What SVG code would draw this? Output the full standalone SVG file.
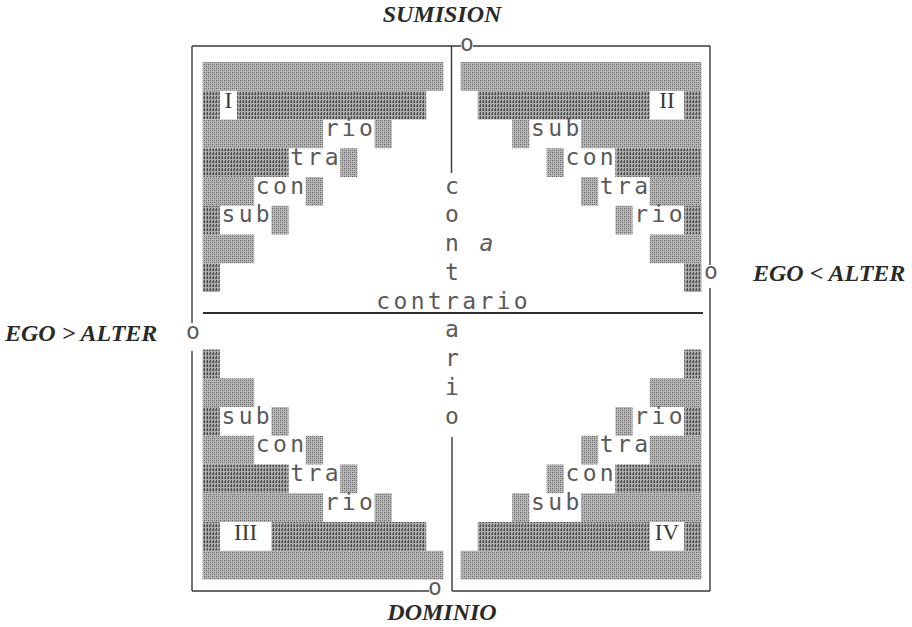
<svg xmlns="http://www.w3.org/2000/svg" width="912" height="627" viewBox="0 0 912 627">
<defs>
<pattern id="lt" width="4" height="4" patternUnits="userSpaceOnUse">
<rect width="4" height="4" fill="#b6b6b6"/>
<rect x="0" y="0" width="1" height="1" fill="#5e5e5e"/>
<rect x="2" y="2" width="1" height="1" fill="#5e5e5e"/>
<rect x="2" y="0" width="1" height="1" fill="#848484"/>
<rect x="0" y="2" width="1" height="1" fill="#848484"/>
</pattern>
<pattern id="dk" width="3" height="4" patternUnits="userSpaceOnUse">
<rect width="3" height="4" fill="#acacac"/>
<rect x="0" y="0" width="1" height="3" fill="#4e4e4e"/>
<rect x="2" y="1" width="1" height="2" fill="#707070"/>
</pattern>
<style>
.l{fill:url(#lt)}
.d{fill:url(#dk)}
.fr{fill:none;stroke:#3a3a3a;stroke-width:1.4}
.dm{font-family:"DejaVu Sans Mono","Liberation Mono",monospace;font-size:23px;fill:#5a5a5a;text-anchor:middle}
.rn{font-family:"Liberation Serif",serif;font-size:23px;fill:#3a3a3a;text-anchor:middle}
.lb{font-family:"Liberation Serif",serif;font-size:24px;font-weight:bold;font-style:italic;fill:#2a2a2a}
</style>
</defs>
<rect width="912" height="627" fill="#ffffff"/>

<g id="frame">
<path class="fr" d="M192 46 H461 M473 46 H710 M710 46 V265 M710 288 V591 M192 591 H429 M452 591 H710 M192 46 V323 M192 351 V591"/>
<path class="fr" d="M451.5 46 V173 M452 437 V591"/>
<path d="M203 313 H703" stroke="#2e2e2e" stroke-width="2" fill="none"/>
<text class="dm" x="467" y="51">o</text>
<text class="dm" x="711" y="278.5">o</text>
<text class="dm" x="193" y="338.5">o</text>
<text class="dm" x="435" y="595">o</text>
</g>

<g id="quadrant-I">
<rect class="l" x="202.6" y="62" width="240.8" height="28.75"/>
<rect class="d" x="202.6" y="90.75" width="17.2" height="28.75"/>
<rect class="d" x="237" y="90.75" width="189.2" height="28.75"/>
<rect class="l" x="202.6" y="119.5" width="120.4" height="28.75"/>
<rect class="l" x="374.6" y="119.5" width="17.2" height="28.75"/>
<rect class="d" x="202.6" y="148.25" width="86" height="28.75"/>
<rect class="l" x="340.2" y="148.25" width="17.2" height="28.75"/>
<rect class="l" x="202.6" y="177" width="51.6" height="28.75"/>
<rect class="l" x="305.8" y="177" width="17.2" height="28.75"/>
<rect class="d" x="202.6" y="205.75" width="17.2" height="28.75"/>
<rect class="l" x="271.4" y="205.75" width="17.2" height="28.75"/>
<rect class="l" x="202.6" y="234.5" width="51.6" height="28.75"/>
<rect class="d" x="202.6" y="263.25" width="17.2" height="28.75"/>
<text class="rn" x="228.4" y="108">I</text>
<text class="dm" x="331.6 348.8 366" y="136">rio</text>
<text class="dm" x="297.2 314.4 331.6" y="164.75">tra</text>
<text class="dm" x="262.8 280 297.2" y="193.5">con</text>
<text class="dm" x="228.4 245.6 262.8" y="222.25">sub</text>
</g>

<g id="quadrant-II">
<rect class="l" x="460.6" y="62" width="240.8" height="28.75"/>
<rect class="d" x="477.8" y="90.75" width="172" height="28.75"/>
<rect class="d" x="684.2" y="90.75" width="17.2" height="28.75"/>
<rect class="l" x="512.2" y="119.5" width="17.2" height="28.75"/>
<rect class="l" x="581" y="119.5" width="120.4" height="28.75"/>
<rect class="l" x="546.6" y="148.25" width="17.2" height="28.75"/>
<rect class="d" x="615.4" y="148.25" width="86" height="28.75"/>
<rect class="l" x="581" y="177" width="17.2" height="28.75"/>
<rect class="l" x="649.8" y="177" width="51.6" height="28.75"/>
<rect class="l" x="615.4" y="205.75" width="17.2" height="28.75"/>
<rect class="d" x="684.2" y="205.75" width="17.2" height="28.75"/>
<rect class="l" x="649.8" y="234.5" width="51.6" height="28.75"/>
<rect class="d" x="684.2" y="263.25" width="17.2" height="28.75"/>
<text class="rn" x="667" y="108">II</text>
<text class="dm" x="538 555.2 572.4" y="136">sub</text>
<text class="dm" x="572.4 589.6 606.8" y="164.75">con</text>
<text class="dm" x="606.8 624 641.2" y="193.5">tra</text>
<text class="dm" x="641.2 658.4 675.6" y="222.25">rio</text>
</g>

<g id="quadrant-III">
<rect class="d" x="202.6" y="349.5" width="17.2" height="28.75"/>
<rect class="l" x="202.6" y="378.25" width="51.6" height="28.75"/>
<rect class="d" x="202.6" y="407" width="17.2" height="28.75"/>
<rect class="l" x="271.4" y="407" width="17.2" height="28.75"/>
<rect class="l" x="202.6" y="435.75" width="51.6" height="28.75"/>
<rect class="l" x="305.8" y="435.75" width="17.2" height="28.75"/>
<rect class="d" x="202.6" y="464.5" width="86" height="28.75"/>
<rect class="l" x="340.2" y="464.5" width="17.2" height="28.75"/>
<rect class="l" x="202.6" y="493.25" width="120.4" height="28.75"/>
<rect class="l" x="374.6" y="493.25" width="17.2" height="28.75"/>
<rect class="d" x="202.6" y="522" width="17.2" height="28.75"/>
<rect class="d" x="271.4" y="522" width="154.8" height="28.75"/>
<rect class="l" x="202.6" y="550.75" width="240.8" height="28.75"/>
<text class="dm" x="228.4 245.6 262.8" y="423.5">sub</text>
<text class="dm" x="262.8 280 297.2" y="452.25">con</text>
<text class="dm" x="297.2 314.4 331.6" y="481">tra</text>
<text class="dm" x="331.6 348.8 366" y="509.75">rio</text>
<text class="rn" x="245.6" y="539.5">III</text>
</g>

<g id="quadrant-IV">
<rect class="d" x="684.2" y="349.5" width="17.2" height="28.75"/>
<rect class="l" x="649.8" y="378.25" width="51.6" height="28.75"/>
<rect class="l" x="615.4" y="407" width="17.2" height="28.75"/>
<rect class="d" x="684.2" y="407" width="17.2" height="28.75"/>
<rect class="l" x="581" y="435.75" width="17.2" height="28.75"/>
<rect class="l" x="649.8" y="435.75" width="51.6" height="28.75"/>
<rect class="l" x="546.6" y="464.5" width="17.2" height="28.75"/>
<rect class="d" x="615.4" y="464.5" width="86" height="28.75"/>
<rect class="l" x="512.2" y="493.25" width="17.2" height="28.75"/>
<rect class="l" x="581" y="493.25" width="120.4" height="28.75"/>
<rect class="d" x="477.8" y="522" width="172" height="28.75"/>
<rect class="d" x="684.2" y="522" width="17.2" height="28.75"/>
<rect class="l" x="460.6" y="550.75" width="240.8" height="28.75"/>
<text class="dm" x="641.2 658.4 675.6" y="423.5">rio</text>
<text class="dm" x="606.8 624 641.2" y="452.25">tra</text>
<text class="dm" x="572.4 589.6 606.8" y="481">con</text>
<text class="dm" x="538 555.2 572.4" y="509.75">sub</text>
<text class="rn" x="667" y="539.5">IV</text>
</g>

<g id="center-text">
<text class="dm" x="452" y="193.5">c</text>
<text class="dm" x="452" y="222.25">o</text>
<text class="dm" x="452" y="251">n</text>
<text class="dm" x="486.4" y="251" font-style="italic">a</text>
<text class="dm" x="452" y="279.75">t</text>
<text class="dm" x="383.2 400.4 417.6 434.8 452 469.2 486.4 503.6 520.8" y="308.5">contrario</text>
<text class="dm" x="452" y="337.25">a</text>
<text class="dm" x="452" y="366">r</text>
<text class="dm" x="452" y="394.75">i</text>
<text class="dm" x="452" y="423.5">o</text>
</g>

<g id="labels">
<text class="lb" x="442" y="22" text-anchor="middle">SUMISION</text>
<text class="lb" x="442" y="620" text-anchor="middle">DOMINIO</text>
<text class="lb" x="753" y="281">EGO &lt; ALTER</text>
<text class="lb" x="5" y="341">EGO &gt; ALTER</text>
</g>
</svg>
